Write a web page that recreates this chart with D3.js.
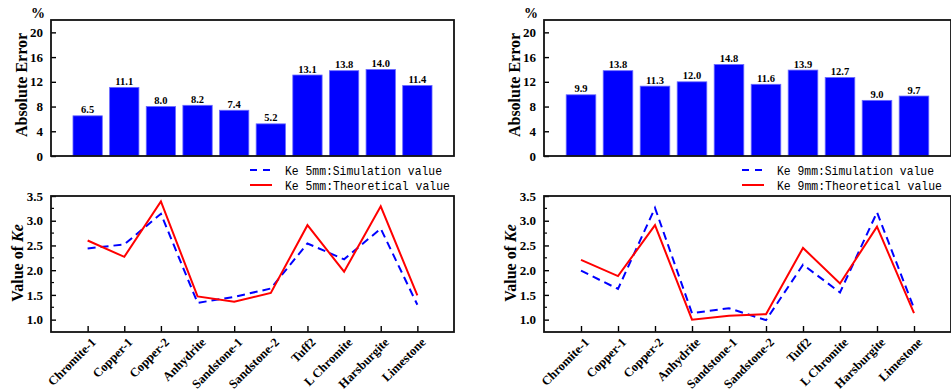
<!DOCTYPE html>
<html>
<head>
<meta charset="utf-8">
<script src="https://cdn.jsdelivr.net/npm/d3@7"></script>
<style>
  body { margin: 0; background: #fff; }
  svg text { font-family: "Liberation Serif", "DejaVu Serif", "Times New Roman", serif; font-weight: bold; }
  svg .legend text { font-family: "Liberation Mono", "DejaVu Sans Mono", monospace; font-weight: normal; }
</style>
</head>
<body>
<svg id="chart" width="951" height="392"></svg>
<script>
var rocks = ["Chromite-1", "Copper-1", "Copper-2", "Anhydrite", "Sandstone-1",
             "Sandstone-2", "Tuff2", "L Chromite", "Harsburgite", "Limestone"];

// absolute error (%)
var err5 = [6.5, 11.1, 8.0, 8.2, 7.4, 5.2, 13.1, 13.8, 14.0, 11.4];
var err9 = [9.9, 13.8, 11.3, 12.0, 14.8, 11.6, 13.9, 12.7, 9.0, 9.7];

// Ke values
var sim5 = [2.44, 2.52, 3.14, 1.34, 1.46, 1.63, 2.54, 2.22, 2.84, 1.30];
var theo5 = [2.60, 2.27, 3.39, 1.47, 1.36, 1.54, 2.91, 1.97, 3.29, 1.49];
var sim9 = [1.99, 1.62, 3.26, 1.13, 1.23, 0.99, 2.11, 1.55, 3.17, 1.23];
var theo9 = [2.21, 1.88, 2.91, 1.00, 1.08, 1.11, 2.45, 1.73, 2.88, 1.13];

var errTicks = [0, 4, 8, 12, 16, 20];
var keTicks = [1.0, 1.5, 2.0, 2.5, 3.0, 3.5];

var svg = d3.select("#chart");

function panel(x0, x1, err, sim, theo, size, legX) {
  var g = svg.append("g");

  // ---- bar chart ----
  var xb = d3.scaleBand().domain(rocks).range([x0, x1])
      .paddingInner(0.2).paddingOuter(0.6);
  var yb = d3.scaleLinear().domain([0, 22]).range([156, 20]);

  g.selectAll(".bar").data(err).enter().append("rect")
      .attr("x", function(d, i) { return xb(rocks[i]); })
      .attr("y", function(d) { return yb(d); })
      .attr("width", xb.bandwidth())
      .attr("height", function(d) { return yb(0) - yb(d); })
      .attr("fill", "#0000ff")
      .attr("stroke", "#6a6aff")
      .attr("stroke-width", 0.8);

  g.selectAll(".blab").data(err).enter().append("text")
      .attr("x", function(d, i) { return xb(rocks[i]) + xb.bandwidth() / 2; })
      .attr("y", function(d) { return yb(d) - 2.5; })
      .attr("text-anchor", "middle")
      .attr("font-size", 10.5)
      .text(function(d) { return d.toFixed(1); });

  var ayb = g.append("g").attr("transform", "translate(" + x0 + ",0)")
      .call(d3.axisLeft(yb).tickValues(errTicks).tickSize(-5).tickPadding(8));
  ayb.select(".domain").remove();
  ayb.selectAll("line").attr("stroke", "#000").attr("stroke-width", 1.4);
  ayb.selectAll("text").attr("font-size", 13).attr("fill", "#000");

  g.append("rect").attr("x", x0).attr("y", yb(22))
      .attr("width", x1 - x0).attr("height", yb(0) - yb(22))
      .attr("fill", "none").attr("stroke", "#111").attr("stroke-width", 1.8);

  g.append("text").attr("x", x0 - 13).attr("y", 18)
      .attr("text-anchor", "middle").attr("font-size", 14).text("%");

  g.append("text")
      .attr("transform", "translate(" + (x0 - 24) + ",85) rotate(-90)")
      .attr("text-anchor", "middle").attr("font-size", 16)
      .text("Absolute Error");

  // ---- line chart ----
  var xl = d3.scalePoint().domain(rocks).range([x0, x1]).padding(1);
  var yl = d3.scaleLinear().domain([0.75, 3.5]).range([332, 196]);

  var ayl = g.append("g").attr("transform", "translate(" + x0 + ",0)")
      .call(d3.axisLeft(yl).tickValues(keTicks).tickSize(-5).tickPadding(8)
        .tickFormat(d3.format(".1f")));
  ayl.select(".domain").remove();
  ayl.selectAll("line").attr("stroke", "#000").attr("stroke-width", 1.4);
  ayl.selectAll("text").attr("font-size", 13).attr("fill", "#000");

  var minor = d3.range(1.25, 3.5, 0.5);
  g.selectAll(".minor").data(minor).enter().append("line")
      .attr("x1", x0).attr("x2", x0 + 3)
      .attr("y1", function(d) { return yl(d); })
      .attr("y2", function(d) { return yl(d); })
      .attr("stroke", "#000").attr("stroke-width", 1.2);

  var axl = g.append("g").attr("transform", "translate(0," + yl(0.75) + ")")
      .call(d3.axisBottom(xl).tickSize(-6).tickFormat(""));
  axl.select(".domain").remove();
  axl.selectAll("line").attr("stroke", "#000").attr("stroke-width", 1.4);

  g.selectAll(".xlab").data(rocks).enter().append("text")
      .attr("transform", function(d) {
        return "translate(" + (xl(d) + 9) + "," + (yl(0.75) + 11) + ") rotate(-45)";
      })
      .attr("text-anchor", "end")
      .attr("font-size", 12.5)
      .text(function(d) { return d; });

  g.append("rect").attr("x", x0).attr("y", yl(3.5))
      .attr("width", x1 - x0).attr("height", yl(0.75) - yl(3.5))
      .attr("fill", "none").attr("stroke", "#111").attr("stroke-width", 1.8);

  var line = d3.line()
      .x(function(d, i) { return xl(rocks[i]); })
      .y(function(d) { return yl(d); });

  g.append("path").datum(sim).attr("d", line)
      .attr("fill", "none").attr("stroke", "#0000ff")
      .attr("stroke-width", 2).attr("stroke-dasharray", "8,5");
  g.append("path").datum(theo).attr("d", line)
      .attr("fill", "none").attr("stroke", "#ff0000")
      .attr("stroke-width", 2);

  var yt = g.append("text")
      .attr("transform", "translate(" + (x0 - 28) + ",263) rotate(-90)")
      .attr("text-anchor", "middle").attr("font-size", 16);
  yt.append("tspan").text("Value of ");
  yt.append("tspan").attr("font-style", "italic").text("Ke");

  // ---- legend ----
  var lx = legX;
  var leg = g.append("g").attr("class", "legend");
  leg.append("line").attr("x1", lx).attr("x2", lx + 22).attr("y1", 170).attr("y2", 170)
      .attr("stroke", "#0000ff").attr("stroke-width", 2).attr("stroke-dasharray", "7,6");
  leg.append("line").attr("x1", lx).attr("x2", lx + 22).attr("y1", 185).attr("y2", 185)
      .attr("stroke", "#ff0000").attr("stroke-width", 2);
  leg.append("text").attr("x", lx + 35).attr("y", 175).attr("font-size", 13)
      .attr("textLength", 157).attr("lengthAdjust", "spacingAndGlyphs")
      .text("Ke " + size + ":Simulation value");
  leg.append("text").attr("x", lx + 35).attr("y", 190).attr("font-size", 13)
      .attr("textLength", 165).attr("lengthAdjust", "spacingAndGlyphs")
      .text("Ke " + size + ":Theoretical value");
}

panel(51, 454, err5, sim5, theo5, "5mm", 250);
panel(544, 951, err9, sim9, theo9, "9mm", 742);
</script>
</body>
</html>
